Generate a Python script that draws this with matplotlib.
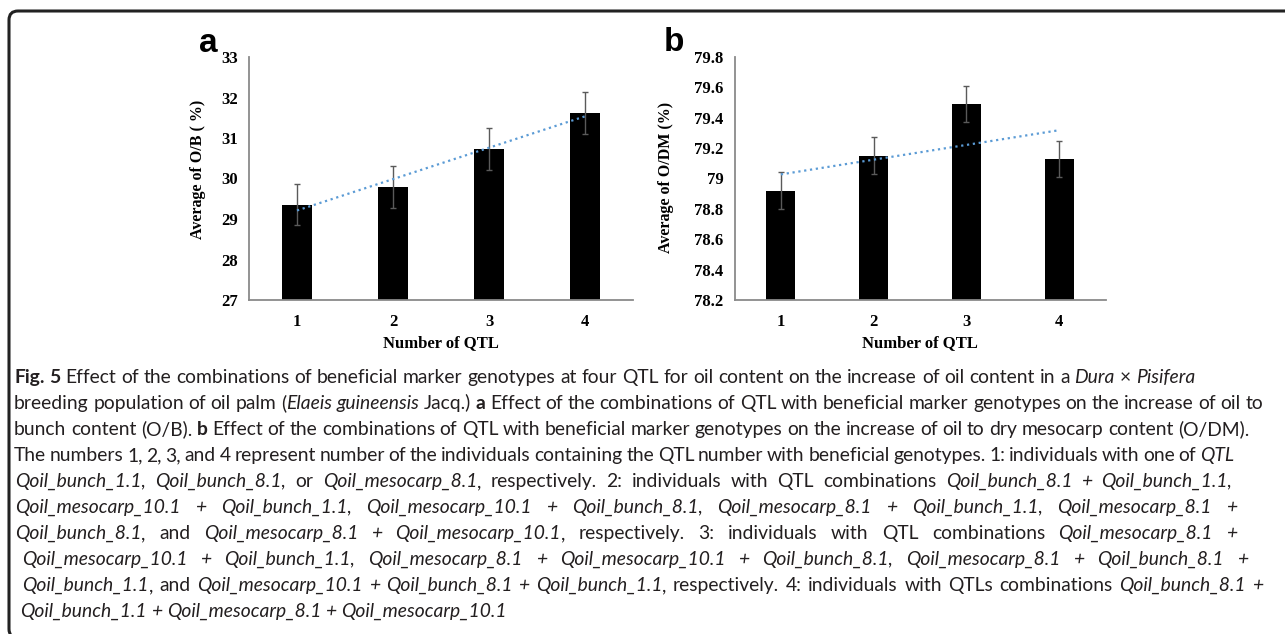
import matplotlib
matplotlib.use('Agg')
import matplotlib.pyplot as plt
import numpy as np
from matplotlib.transforms import IdentityTransform
from matplotlib.patches import FancyBboxPatch
from matplotlib import font_manager

# ---------------- data ----------------
qtl_number = [1, 2, 3, 4]
qtl_labels = ['1', '2', '3', '4']
ob_mean = [29.35, 29.79, 30.73, 31.62]
ob_err = [0.51, 0.51, 0.52, 0.51]
odm_mean = [78.92, 79.15, 79.49, 79.13]
odm_err = [0.12, 0.12, 0.12, 0.12]
ob_ticks = [27, 28, 29, 30, 31, 32, 33]
ob_ticklabels = ['27', '28', '29', '30', '31', '32', '33']
odm_ticks = [78.2, 78.4, 78.6, 78.8, 79.0, 79.2, 79.4, 79.6, 79.8]
odm_ticklabels = ['78.2', '78.4', '78.6', '78.8', '79', '79.2', '79.4', '79.6', '79.8']

W, H = 1285, 634
fig = plt.figure(figsize=(W / 100, H / 100), dpi=100)

SERIF = 'Liberation Serif'


def axes_rect(x0, x1, y0, y1):
    return [x0 / W, 1 - y1 / H, (x1 - x0) / W, (y1 - y0) / H]


def panel(rect, mean, err, ticks, ticklabels, ylabel, ylab_coords, letter, letter_xy):
    ax = fig.add_axes(rect)
    x = np.array(qtl_number)
    ax.bar(x, mean, width=0.31, color='black', zorder=2)
    ax.errorbar(x, mean, yerr=err, fmt='none', ecolor='#5a5a5a', elinewidth=1.0,
                capsize=2.0, capthick=1.0, zorder=3)
    k, b = np.polyfit(x, mean, 1)
    xf = np.array([x[0], x[-1]], dtype=float)
    ax.plot(xf, k * xf + b, linestyle=':', color='#5B9BD5', lw=1.6, zorder=4)
    ax.set_xlim(0.5, 4.5)
    ax.set_ylim(ticks[0], ticks[-1])
    ax.set_yticks(ticks)
    ax.set_yticklabels(ticklabels, fontfamily=SERIF, fontweight='bold', fontsize=12)
    ax.set_xticks(x)
    ax.set_xticklabels(qtl_labels, fontfamily=SERIF, fontweight='bold', fontsize=12)
    ax.tick_params(axis='both', length=0)
    ax.tick_params(axis='y', pad=8)
    ax.tick_params(axis='x', pad=10)
    for s in ['top', 'right']:
        ax.spines[s].set_visible(False)
    for s in ['left', 'bottom']:
        ax.spines[s].set_color('#8a8a8a')
        ax.spines[s].set_linewidth(1.3)
    ax.set_xlabel('Number of QTL', fontfamily=SERIF, fontweight='bold', fontsize=12, labelpad=4)
    ax.set_ylabel(ylabel, fontfamily=SERIF, fontweight='bold', fontsize=11.5)
    ax.yaxis.set_label_coords(*ylab_coords)
    fig.text(letter_xy[0] / W, 1 - letter_xy[1] / H, letter, fontfamily='Liberation Sans',
             fontweight='bold', fontsize=24, ha='left', va='baseline')
    return ax


panel(axes_rect(249, 633, 57, 300), ob_mean, ob_err, ob_ticks, ob_ticklabels,
      'Average of O/B ( %)', (-0.112, 0.539), 'a', (199, 52))
panel(axes_rect(734.5, 1105.5, 57, 300), odm_mean, odm_err, odm_ticks, odm_ticklabels,
      'Average of O/DM (%)', (-0.162, 0.506), 'b', (664, 51))

# ---------------- border ----------------
border = FancyBboxPatch((9, -4), 1320, (H - 11) + 4, boxstyle='round,pad=0,rounding_size=9',
                        transform=IdentityTransform(), fill=False, edgecolor='#222222',
                        linewidth=2.2, clip_on=False)
fig.patches.append(border)

# ---------------- caption ----------------
caption_lines = [
    [('b', 'Fig. 5'), ('n', ' Effect of the combinations of beneficial marker genotypes at four QTL for oil content on the increase of oil content in a '),
     ('i', 'Dura'), ('n', ' \u00d7 '), ('i', 'Pisifera')],
    [('n', 'breeding population of oil palm ('), ('i', 'Elaeis guineensis'), ('n', ' Jacq.) '), ('b', 'a'),
     ('n', ' Effect of the combinations of QTL with beneficial marker genotypes on the increase of oil to')],
    [('n', 'bunch content (O/B). '), ('b', 'b'),
     ('n', ' Effect of the combinations of QTL with beneficial marker genotypes on the increase of oil to dry mesocarp content (O/DM).')],
    [('n', 'The numbers 1, 2, 3, and 4 represent number of the individuals containing the QTL number with beneficial genotypes. 1: individuals with one of '),
     ('i', 'QTL')],
    [('i', 'Qoil_bunch_1.1,'), ('n', ' '), ('i', 'Qoil_bunch_8.1,'), ('n', ' or '), ('i', 'Qoil_mesocarp_8.1'),
     ('n', ', respectively. 2: individuals with QTL combinations '), ('i', 'Qoil_bunch_8.1 + Qoil_bunch_1.1,')],
    [('i', 'Qoil_mesocarp_10.1 + Qoil_bunch_1.1, Qoil_mesocarp_10.1 + Qoil_bunch_8.1, Qoil_mesocarp_8.1 + Qoil_bunch_1.1, Qoil_mesocarp_8.1 +')],
    [('i', 'Qoil_bunch_8.1'), ('n', ', and '), ('i', 'Qoil_mesocarp_8.1 + Qoil_mesocarp_10.1'),
     ('n', ', respectively. 3: individuals with QTL combinations '), ('i', 'Qoil_mesocarp_8.1 +')],
    [('i', 'Qoil_mesocarp_10.1 + Qoil_bunch_1.1, Qoil_mesocarp_8.1 + Qoil_mesocarp_10.1 + Qoil_bunch_8.1, Qoil_mesocarp_8.1 + Qoil_bunch_8.1 +')],
    [('i', 'Qoil_bunch_1.1'), ('n', ', and '), ('i', 'Qoil_mesocarp_10.1 + Qoil_bunch_8.1 + Qoil_bunch_1.1'),
     ('n', ', respectively. 4: individuals with QTLs combinations '), ('i', 'Qoil_bunch_8.1 +')],
    [('i', 'Qoil_bunch_1.1 + Qoil_mesocarp_8.1 + Qoil_mesocarp_10.1')],
]
line_left = [14, 14, 14, 14, 15, 15, 15, 22, 22, 20]
line_right = [1195, 1263, 1249, 1234, 1232, 1237, 1237, 1248, 1263, None]
line_base = [383 + 26 * i for i in range(10)]

available = {f.name for f in font_manager.fontManager.ttflist}
CAP_FONT = 'DejaVu Sans'
for cand in ['Lato', 'Roboto', 'Noto Sans', 'Open Sans']:
    if cand in available:
        CAP_FONT = cand
        break

STY = {'n': dict(style='normal', weight='normal'),
       'i': dict(style='italic', weight='normal'),
       'b': dict(style='normal', weight='bold')}
renderer = fig.canvas.get_renderer()


def tw(s, st, size):
    t = fig.text(0, 0, s, fontsize=size, family=CAP_FONT, **STY[st])
    w = t.get_window_extent(renderer).width
    t.remove()
    return w


def tokens_of(segs):
    toks = []
    for st, txt in segs:
        parts = txt.split(' ')
        for k, p in enumerate(parts):
            if k > 0:
                toks.append(('s', ' ', st))
            if p:
                toks.append(('w', p, st))
    return toks


def natural(toks, size):
    ws = []
    for kind, s, st in toks:
        if kind == 'w':
            ws.append(tw(s, st, size))
        else:
            ws.append(tw('a a', st, size) - tw('aa', st, size))
    return ws


base_size = 11.0
t0 = tokens_of(caption_lines[0])
nat0 = sum(natural(t0, base_size))
cap_size = base_size * (line_right[0] - line_left[0]) / nat0

for segs, x0, x1, yb in zip(caption_lines, line_left, line_right, line_base):
    toks = tokens_of(segs)
    ws = natural(toks, cap_size)
    nsp = sum(1 for t in toks if t[0] == 's')
    extra = 0.0
    if x1 is not None and nsp > 0:
        extra = (x1 - x0 - sum(ws)) / nsp
    x = x0
    for (kind, s, st), w in zip(toks, ws):
        if kind == 'w':
            fig.text(x / W, 1 - yb / H, s, fontsize=cap_size, family=CAP_FONT,
                     ha='left', va='baseline', color='#231f20', **STY[st])
            x += w
        else:
            x += w + extra

fig.savefig('out.png', dpi=100)
